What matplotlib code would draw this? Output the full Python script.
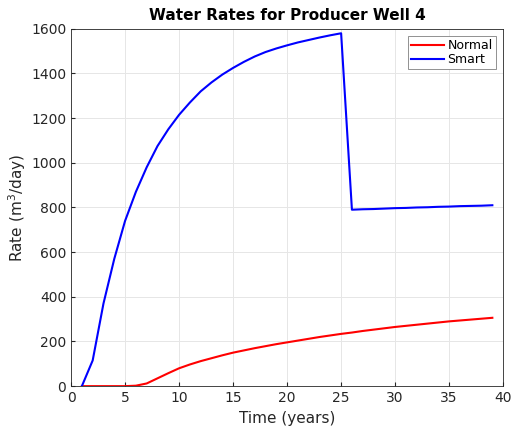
import matplotlib
matplotlib.use("Agg")
import matplotlib.pyplot as plt

# time in years
years = list(range(1, 40))

# water rate, normal completion (m^3/day)
normal = [0, 0, 0, 0, 0, 2, 12, 35, 58, 80, 97, 112, 125, 138, 150, 160, 170,
          179, 188, 196, 204, 212, 220, 227, 234, 240, 247, 253, 259, 265,
          270, 275, 280, 285, 290, 294, 298, 302, 306]

# water rate, smart completion (m^3/day)
smart = [0, 115, 370, 570, 740, 870, 980, 1075, 1150, 1215, 1270, 1320, 1360,
         1395, 1425, 1452, 1476, 1496, 1512, 1526, 1539, 1550, 1561, 1571,
         1580, 790, 792, 793, 795, 797, 798, 800, 801, 803, 804, 806, 807,
         808, 810]

fig = plt.figure(figsize=(5.15, 4.3), dpi=100)
ax = fig.add_axes([0.138, 0.102, 0.839, 0.831])

ax.plot(years, normal, color="red", lw=1.5, label="Normal")
ax.plot(years, smart, color="blue", lw=1.5, label="Smart")

ax.set_xlim(0, 40)
ax.set_ylim(0, 1600)
ax.set_xticks(range(0, 41, 5))
ax.set_yticks(range(0, 1601, 200))
ax.grid(True, color="#e6e6e6", lw=0.7)
ax.set_axisbelow(True)
ax.tick_params(direction="in", colors="#262626", labelsize=10, length=3)
for s in ax.spines.values():
    s.set_color("#262626")
    s.set_linewidth(0.6)

ax.set_xlabel("Time (years)", fontsize=11, color="#262626")
ax.set_ylabel("Rate (m$^3$/day)", fontsize=11, color="#262626", labelpad=2)
ax.set_title("Water Rates for Producer Well 4", fontsize=11, fontweight="bold")

leg = ax.legend(loc="upper right", fontsize=9, fancybox=False, framealpha=1,
                edgecolor="#808080", handlelength=2.6, borderpad=0.25,
                labelspacing=0.05, handletextpad=0.3, borderaxespad=0.6)
leg.get_frame().set_linewidth(0.6)

fig.savefig("out.png", dpi=100)
